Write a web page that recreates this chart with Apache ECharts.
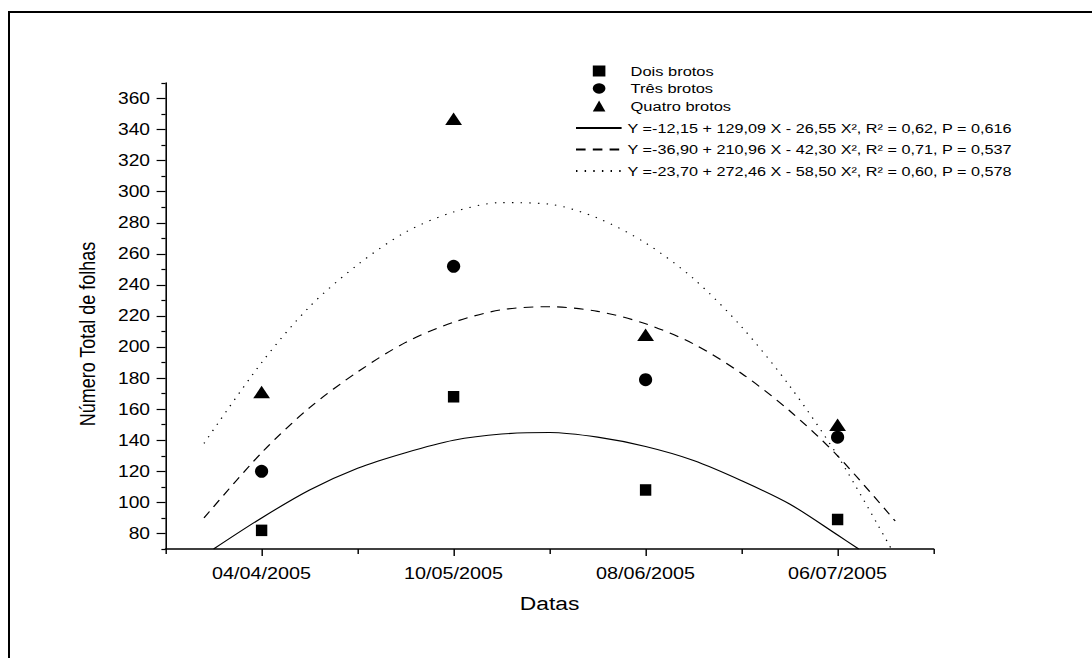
<!DOCTYPE html>
<html>
<head>
<meta charset="utf-8">
<title>Número Total de folhas</title>
<script src="https://cdn.jsdelivr.net/npm/echarts@6/dist/echarts.min.js"></script>
<style>
  html, body { margin: 0; padding: 0; background: #fff; overflow: hidden; }
  /* the source figure is a bit stretched sideways, so the chart is too */
  #chart { position: absolute; left: 0; top: 0; width: 910px; height: 658px; transform: scaleX(1.2); transform-origin: 0 0; }
  #frame { position: absolute; left: 8px; top: 11px; width: 1100px; height: 700px; border-top: 2px solid #000; border-left: 2px solid #000; pointer-events: none; }
</style>
</head>
<body>
<div id="chart"></div>
<div id="frame"></div>
<script>
// coleta (X = 1..4)
const dates = ['04/04/2005', '10/05/2005', '08/06/2005', '06/07/2005'];
const dateX = [1, 2, 3, 4];
const dois = [82, 168, 108, 89];
const tres = [120, 252, 179, 142];
const quatro = [171, 347, 208, 150];

// curvas ajustadas
const fitNames = [
  'Y =-12,15 + 129,09 X - 26,55 X², R² = 0,62, P = 0,616',
  'Y =-36,90 + 210,96 X - 42,30 X², R² = 0,71, P = 0,537',
  'Y =-23,70 + 272,46 X - 58,50 X², R² = 0,60, P = 0,578'
];
const fitDoisX = [0.75, 1, 1.25, 1.5, 1.75, 2, 2.25, 2.5, 2.75, 3, 3.25, 3.5, 3.75, 4, 4.11];
const fitDoisY = [70, 90, 108, 122, 132, 140, 144, 145, 142, 136, 127, 114, 99, 79, 70];
const fitTresX = [0.7, 1, 1.25, 1.5, 1.75, 2, 2.25, 2.5, 2.75, 3, 3.25, 3.5, 3.75, 4, 4.3];
const fitTresY = [90, 132, 161, 184, 203, 216, 224, 226, 223, 215, 202, 183, 159, 130, 88];
const fitQuatroX = [0.7, 1, 1.25, 1.5, 1.75, 2, 2.25, 2.5, 2.75, 3, 3.25, 3.5, 3.75, 4, 4.28];
const fitQuatroY = [138, 190, 226, 253, 274, 287, 293, 292, 283, 267, 244, 213, 175, 130, 70];

const yMajor = [80, 100, 120, 140, 160, 180, 200, 220, 240, 260, 280, 300, 320, 340, 360];
const yMinor = [70, 90, 110, 130, 150, 170, 190, 210, 230, 250, 270, 290, 310, 330, 350, 370];
const xMinor = [0.5, 1.5, 2.5, 3.5, 4.5];

const font = 'Liberation Sans, Arial, sans-serif';
const pairs = (xs, ys) => xs.map((x, i) => [x, ys[i]]);

const chart = echarts.init(document.getElementById('chart'), null, { renderer: 'svg' });

const option = {
  backgroundColor: '#fff',
  animation: false,
  textStyle: { fontFamily: font, color: '#000' },
  grid: { left: 138, right: 132, top: 83, height: 466 },
  legend: [
    {
      data: ['Dois brotos', 'Três brotos', 'Quatro brotos'],
      orient: 'vertical',
      left: 489,
      top: 58,
      itemWidth: 10.5,
      itemHeight: 11,
      itemGap: 1.5,
      textStyle: { fontSize: 13.7, lineHeight: 16, color: '#000', padding: [0, 0, 0, 16] }
    },
    {
      data: fitNames,
      orient: 'vertical',
      left: 474,
      top: 115,
      itemWidth: 38,
      itemHeight: 11,
      itemGap: 5.5,
      itemStyle: { opacity: 0 },
      textStyle: { fontSize: 13.5, lineHeight: 16, color: '#000' }
    }
  ],
  graphic: [
    {
      type: 'text',
      x: 73,
      y: 334,
      rotation: Math.PI / 2,
      style: {
        text: 'Número Total de folhas',
        font: '18px ' + font,
        fill: '#000',
        align: 'center',
        verticalAlign: 'middle'
      }
    }
  ],
  xAxis: [
    {
      type: 'value',
      min: 0.5,
      max: 4.5,
      interval: 0.5,
      name: 'Datas',
      nameLocation: 'middle',
      nameGap: 45,
      nameTextStyle: { fontSize: 19, color: '#000' },
      axisLine: { lineStyle: { color: '#000', width: 1.5 } },
      axisTick: { customValues: dateX, length: 7, lineStyle: { color: '#000', width: 1.2 } },
      axisLabel: {
        customValues: dateX,
        margin: 16,
        fontSize: 16.5,
        color: '#000',
        formatter: v => dates[Math.round(v) - 1]
      },
      splitLine: { show: false }
    },
    {
      type: 'value',
      position: 'bottom',
      min: 0.5,
      max: 4.5,
      interval: 0.5,
      axisLine: { show: false },
      axisTick: { customValues: xMinor, length: 5, lineStyle: { color: '#000', width: 1.2 } },
      axisLabel: { show: false },
      splitLine: { show: false }
    }
  ],
  yAxis: [
    {
      type: 'value',
      min: 70,
      max: 370,
      interval: 10,
      axisLine: { show: true, lineStyle: { color: '#000', width: 1.3 } },
      axisTick: { show: true, customValues: yMajor, length: 7.5, lineStyle: { color: '#000', width: 1.2 } },
      axisLabel: { customValues: yMajor, margin: 13, fontSize: 16, color: '#000' },
      splitLine: { show: false }
    },
    {
      type: 'value',
      position: 'left',
      min: 70,
      max: 370,
      interval: 10,
      axisLine: { show: false },
      axisTick: { show: true, customValues: yMinor, length: 3.5, lineStyle: { color: '#000', width: 1.2 } },
      axisLabel: { show: false },
      splitLine: { show: false }
    }
  ],
  series: [
    {
      name: 'Dois brotos',
      type: 'scatter',
      symbol: 'rect',
      symbolSize: [9.5, 11.5],
      itemStyle: { color: '#000', opacity: 1 },
      data: pairs(dateX, dois)
    },
    {
      name: 'Três brotos',
      type: 'scatter',
      symbol: 'circle',
      symbolSize: [11, 13],
      itemStyle: { color: '#000', opacity: 1 },
      data: pairs(dateX, tres)
    },
    {
      name: 'Quatro brotos',
      type: 'scatter',
      symbol: 'triangle',
      symbolSize: [14, 12.5],
      itemStyle: { color: '#000', opacity: 1 },
      data: pairs(dateX, quatro)
    },
    {
      name: fitNames[0],
      type: 'line',
      smooth: 0.3,
      symbol: 'none',
      clip: true,
      lineStyle: { color: '#000', width: 1.1, type: 'solid' },
      itemStyle: { color: '#000' },
      data: pairs(fitDoisX, fitDoisY)
    },
    {
      name: fitNames[1],
      type: 'line',
      smooth: 0.3,
      symbol: 'none',
      clip: true,
      lineStyle: { color: '#000', width: 1.1, type: [8, 6] },
      itemStyle: { color: '#000' },
      data: pairs(fitTresX, fitTresY)
    },
    {
      name: fitNames[2],
      type: 'line',
      smooth: 0.3,
      symbol: 'none',
      clip: true,
      lineStyle: { color: '#000', width: 1.1, type: [1.2, 6] },
      itemStyle: { color: '#000' },
      data: pairs(fitQuatroX, fitQuatroY)
    }
  ]
};

chart.setOption(option);
</script>
</body>
</html>
